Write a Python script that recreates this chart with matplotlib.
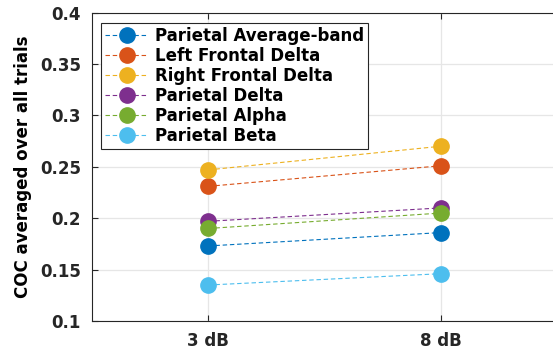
import matplotlib
matplotlib.use("Agg")
import matplotlib.pyplot as plt

conditions = ["3 dB", "8 dB"]
series_names = ["Parietal Average-band", "Left Frontal Delta", "Right Frontal Delta",
                "Parietal Delta", "Parietal Alpha", "Parietal Beta"]
parietal_avg = [0.173, 0.186]
left_frontal_delta = [0.231, 0.251]
right_frontal_delta = [0.247, 0.270]
parietal_delta = [0.197, 0.210]
parietal_alpha = [0.190, 0.205]
parietal_beta = [0.135, 0.146]
colors = ["#0072BD", "#D95319", "#EDB120", "#7E2F8E", "#77AC30", "#4DBEEE"]
yticks = [0.1, 0.15, 0.2, 0.25, 0.3, 0.35, 0.4]
ytick_labels = ["0.1", "0.15", "0.2", "0.25", "0.3", "0.35", "0.4"]

plt.rcParams['font.family'] = ['DejaVu Sans']
plt.rcParams['font.weight'] = 'bold'

fig = plt.figure(figsize=(5.53, 3.51), dpi=100)
ax = fig.add_axes([92/553, 1-321/351, 465/553, (321-12.6)/351])

xs = [1, 2]
for name, vals, c in zip(series_names,
                         [parietal_avg, left_frontal_delta, right_frontal_delta,
                          parietal_delta, parietal_alpha, parietal_beta], colors):
    ax.plot(xs, vals, linestyle='--', linewidth=0.8, color=c, marker='o',
            markersize=11, markeredgecolor=c, markerfacecolor=c, label=name,
            dashes=(4, 2.5))

ax.set_xlim(0.5, 2.5)
ax.set_ylim(0.1, 0.4)
ax.set_xticks(xs)
ax.set_xticklabels(conditions, fontsize=12, fontweight='bold')
ax.set_yticks(yticks)
ax.set_yticklabels(ytick_labels, fontsize=12, fontweight='bold')
ax.set_ylabel("COC averaged over all trials", fontsize=12, fontweight='bold', labelpad=6)
ax.grid(True, color='#e6e6e6', linewidth=0.9)
ax.set_axisbelow(True)
ax.tick_params(direction='in', length=4, width=0.8, color='#262626', top=True, right=False,
               labelcolor='#262626', pad=8)
for s in ax.spines.values():
    s.set_color('#262626')
    s.set_linewidth(0.8)
ax.spines['right'].set_visible(False)

leg = ax.legend(loc='upper left', bbox_to_anchor=(0.019, 0.966), borderaxespad=0,
                fancybox=False, edgecolor='#262626', framealpha=1,
                prop={'size': 12, 'weight': 'bold'}, handlelength=2.6,
                handletextpad=0.4, labelspacing=0.12, borderpad=0.25,
                markerscale=1.0)
leg.get_frame().set_linewidth(0.8)

fig.savefig("out.png", dpi=100)
